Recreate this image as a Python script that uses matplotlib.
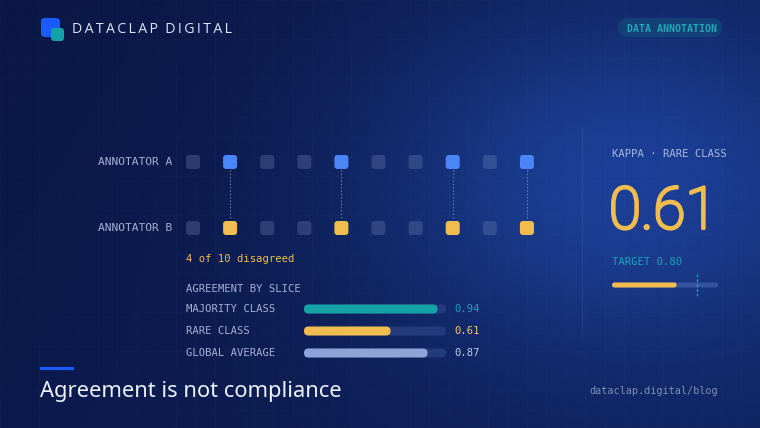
import numpy as np
import matplotlib
matplotlib.use('Agg')
import matplotlib.pyplot as plt
import matplotlib.patheffects as pe
from matplotlib.patches import FancyBboxPatch

# data
items = list(range(10))
labels_a = [0, 1, 0, 0, 1, 0, 0, 1, 0, 1]   # 1 = rare class
labels_b = [0, 1, 0, 0, 1, 0, 0, 1, 0, 1]
disagree = [1, 4, 7, 9]
slices = ['MAJORITY CLASS', 'RARE CLASS', 'GLOBAL AVERAGE']
slice_vals = [0.94, 0.61, 0.87]
kappa = 0.61
target = 0.80

W, H = 760, 428
fig = plt.figure(figsize=(W / 100, H / 100), dpi=100)
ax = fig.add_axes([0, 0, 1, 1])
ax.set_xlim(0, W)
ax.set_ylim(H, 0)
ax.axis('off')

# background gradient + glow
yy, xx = np.mgrid[0:H, 0:W]
c0 = np.array([0x0a, 0x17, 0x46]) / 255
c1 = np.array([0x1d, 0x42, 0x9c]) / 255
lin = np.clip((xx / W) * 0.55 + (yy / H) * 0.25, 0, 1)
glow = np.exp(-(((xx - 620) / 250) ** 2 + ((yy - 180) / 180) ** 2))
t = np.clip(0.3 * lin + 0.78 * glow, 0, 1)[..., None]
bg = c0 * (1 - t) + c1 * t
ax.imshow(bg, extent=[0, W, H, 0], zorder=0, interpolation='bilinear')
for g in np.arange(0, W, 19.5):
    ax.plot([g, g], [0, H], color='white', alpha=0.02, lw=0.6, zorder=1)
for g in np.arange(0, H, 19.5):
    ax.plot([0, W], [g, g], color='white', alpha=0.02, lw=0.6, zorder=1)

mono = 'DejaVu Sans Mono'
muted = '#a4b0d4'
yellow = '#f2bd4f'
teal = '#14a4a8'
blue = '#4a86f7'

def rbox(x, y, w, h, r, color, alpha=1.0, z=3):
    ax.add_patch(FancyBboxPatch((x + r, y + r), w - 2 * r, h - 2 * r,
                                boxstyle='round,pad=%f' % r, fc=color, ec='none',
                                alpha=alpha, zorder=z))

# header
rbox(41, 18, 19, 19, 4, '#1a5cff')
rbox(51, 28, 13, 13, 3, '#13a3a6', z=4)
ax.text(72, 29, '\u2009'.join('DATACLAP') + '  ' + '\u2009'.join('DIGITAL'),
        color='#dfe6f5', fontsize=10.2, va='center', ha='left', family='Open Sans')
rbox(618, 18, 104, 19, 9.5, '#156080', alpha=0.4)
ax.text(672, 28.5, 'DATA ANNOTATION', color='#1fa8b8', fontsize=7.1,
        fontweight='bold', family=mono, ha='center', va='center')

# annotator rows
x0, dx, ya, yb, s = 193, 37.1, 162, 228, 14
ax.text(98, ya, 'ANNOTATOR A', color=muted, fontsize=8.1, family=mono, va='center')
ax.text(98, yb, 'ANNOTATOR B', color=muted, fontsize=8.1, family=mono, va='center')
for i in items:
    cx = x0 + i * dx
    if labels_a[i]:
        rbox(cx - s / 2, ya - s / 2, s, s, 3, blue)
    else:
        rbox(cx - s / 2, ya - s / 2, s, s, 3, '#8090c0', alpha=0.28)
    if labels_b[i]:
        rbox(cx - s / 2, yb - s / 2, s, s, 3, yellow)
    else:
        rbox(cx - s / 2, yb - s / 2, s, s, 3, '#8090c0', alpha=0.28)
for i in disagree:
    cx = x0 + i * dx
    ax.plot([cx, cx], [ya + s / 2 + 1, yb - s / 2 - 1], color='#7f93c8',
            lw=0.8, ls=(0, (1, 2)), zorder=2)

ax.text(186, 259, '%d of %d disagreed' % (len(disagree), len(items)),
        color=yellow, fontsize=7.6, family=mono, va='center')
ax.text(186, 289, 'AGREEMENT BY SLICE', color=muted, fontsize=7.6,
        family=mono, va='center')

bar_cols = [teal, yellow, '#8ea3d8']
val_cols = ['#1aa0b4', '#f2c76a', '#c2cbe4']
bx, bw, bh = 304, 142, 9
for k, (name, v) in enumerate(zip(slices, slice_vals)):
    y = 309 + k * 22
    ax.text(186, y, name, color=muted, fontsize=7.6, family=mono, va='center')
    rbox(bx, y - bh / 2, bw, bh, bh / 2, '#3a5598', alpha=0.45)
    rbox(bx, y - bh / 2, bw * v, bh, bh / 2, bar_cols[k], z=4)
    ax.text(454, y, '%.2f' % v, color=val_cols[k], fontsize=7.6, family=mono,
            va='center')

# divider
ax.plot([582, 582], [128, 338], color='white', alpha=0.07, lw=0.8, zorder=2)

# right panel
ax.text(612, 154, 'KAPPA \u00b7 RARE CLASS', color='#aab8e2', fontsize=7.6,
        family=mono, va='center')
ax.text(609, 213, '%.2f' % kappa, color=yellow, fontsize=42, fontweight='light',
        family='Roboto', va='center', ha='left',
        path_effects=[pe.withStroke(linewidth=2.2, foreground=yellow)])
ax.text(612, 262, 'TARGET %.2f' % target, color='#1aa6b8', fontsize=7.6,
        family=mono, va='center')
tx, tw, th = 612, 106, 5
rbox(tx, 285 - th / 2, tw, th, th / 2, '#5a78c0', alpha=0.45)
rbox(tx, 285 - th / 2, tw * kappa, th, th / 2, yellow, z=4)
ax.plot([tx + tw * target] * 2, [274, 296], color='#1aa6b8', lw=1,
        ls=(0, (2, 1.5)), zorder=5)

# footer
ax.plot([41, 72], [368, 368], color='#1a5cff', lw=2.2, zorder=3)
ax.text(40, 392, 'Agreement is not compliance', color='#eef2fb', fontsize=15.8,
        family='Noto Sans', va='center')
ax.text(718, 391, 'dataclap.digital/blog', color='#7d8db8', fontsize=7.4,
        family=mono, va='center', ha='right')

fig.savefig('out.png', dpi=100)
